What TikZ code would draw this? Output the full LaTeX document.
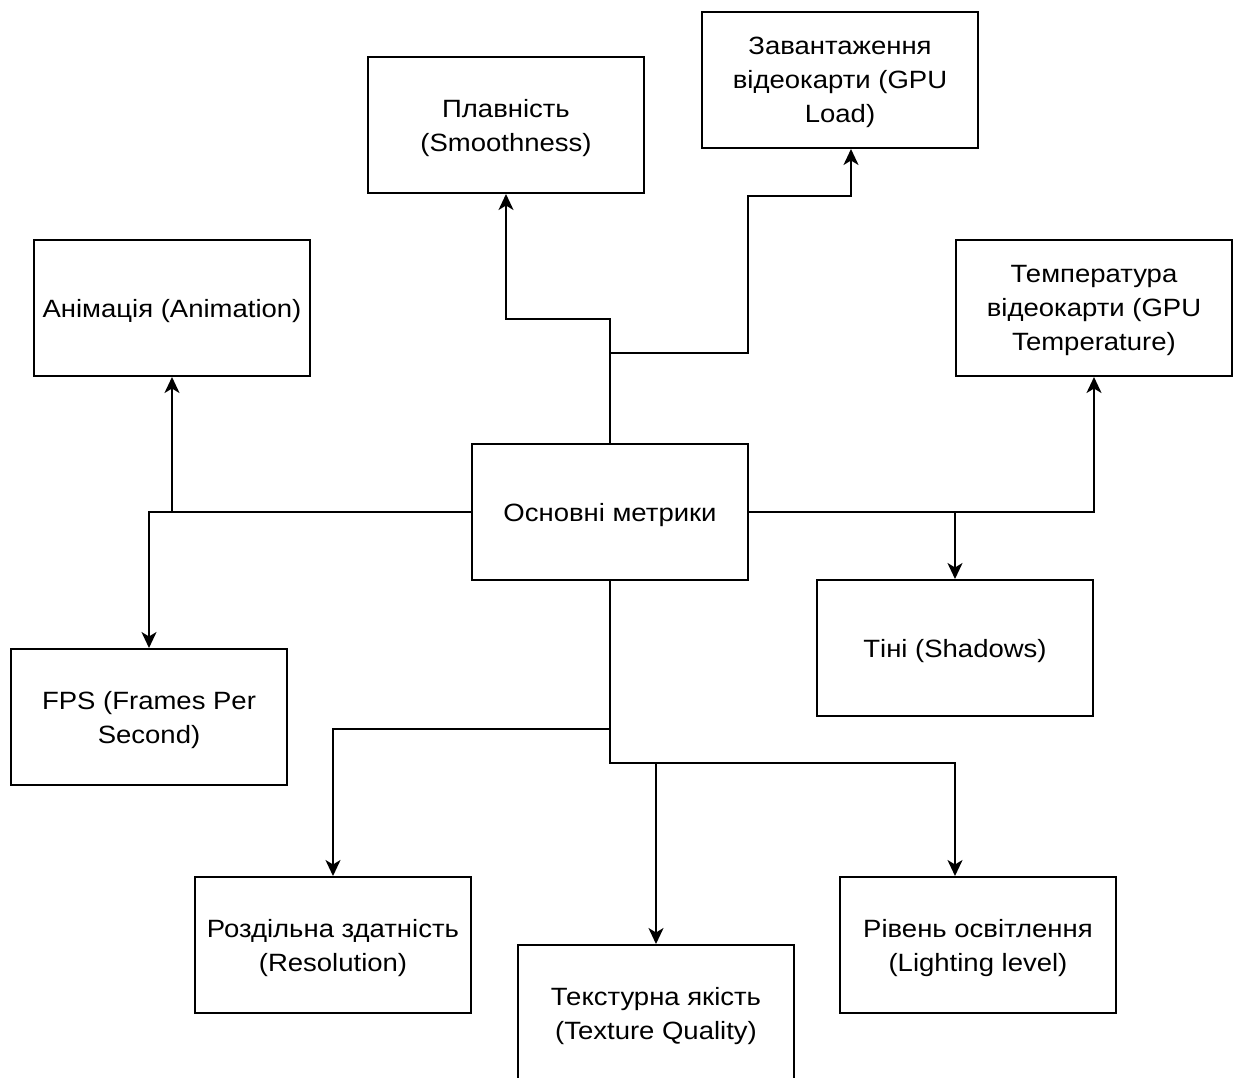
\documentclass[tikz,border=0pt]{standalone}
\usepackage{fontspec}
\setmainfont[FakeStretch=1.1]{Liberation Sans}
\usetikzlibrary{arrows.meta}
\begin{document}
\begin{tikzpicture}[x=1pt,y=-1pt,
  box/.style={draw=black, line width=2pt, minimum width=276pt, minimum height=136pt,
    align=center, inner sep=4pt, text depth=-1.5pt, font=\fontsize{25}{34}\selectfont},
  conn/.style={draw=black, line width=2pt},
  arr/.style={conn, -{Stealth[length=16pt,width=15pt,inset=4.5pt]}}]
\useasboundingbox[fill=white] (0,0) rectangle (1234,1077);

\node[box] (center) at (610,512) {Основні метрики};
\node[box] (smooth) at (506,125) {Плавність\\(Smoothness)};
\node[box] (gpuload) at (840,80) {Завантаження\\відеокарти (GPU\\Load)};
\node[box] (anim) at (172,308) {Анімація (Animation)};
\node[box] (temp) at (1094,308) {Температура\\відеокарти (GPU\\Temperature)};
\node[box] (shadows) at (955,648) {Тіні (Shadows)};
\node[box] (fps) at (149,717) {FPS (Frames Per\\Second)};
\node[box] (res) at (333,945) {Роздільна здатність\\(Resolution)};
\node[box] (tex) at (656,1013) {Текстурна якість\\(Texture Quality)};
\node[box] (light) at (978,945) {Рівень освітлення\\(Lighting level)};

% top branches
\coordinate (t1) at (610,319);
\coordinate (t2) at (610,353);
\draw[arr] (center.north) -- (t1) -- (smooth.south |- t1) -- (smooth.south);
\coordinate (g1) at (748,353);
\coordinate (g2) at (748,196);
\coordinate (g3) at (851,196);
\draw[arr] (t2) -- (g1) -- (g2) -- (g3) -- (g3 |- gpuload.south);

% left branches
\coordinate (l1) at (149,512);
\draw[arr] (center.west) -- (l1) -- (fps.north);
\coordinate (l2) at (172,512);
\draw[arr] (l2) -- (anim.south);

% right branches
\coordinate (r1) at (1094,512);
\draw[arr] (center.east) -- (r1) -- (temp.south);
\coordinate (r2) at (955,512);
\draw[arr] (r2) -- (shadows.north);

% bottom branches
\coordinate (b1) at (610,729);
\coordinate (b2) at (610,763);
\draw[arr] (center.south) -- (b1) -- (res.north |- b1) -- (res.north);
\coordinate (b3) at (955,763);
\draw[arr] (b1) -- (b2) -- (b3) -- (b3 |- light.north);
\coordinate (b4) at (656,763);
\draw[arr] (b4) -- (tex.north);
\end{tikzpicture}
\end{document}
